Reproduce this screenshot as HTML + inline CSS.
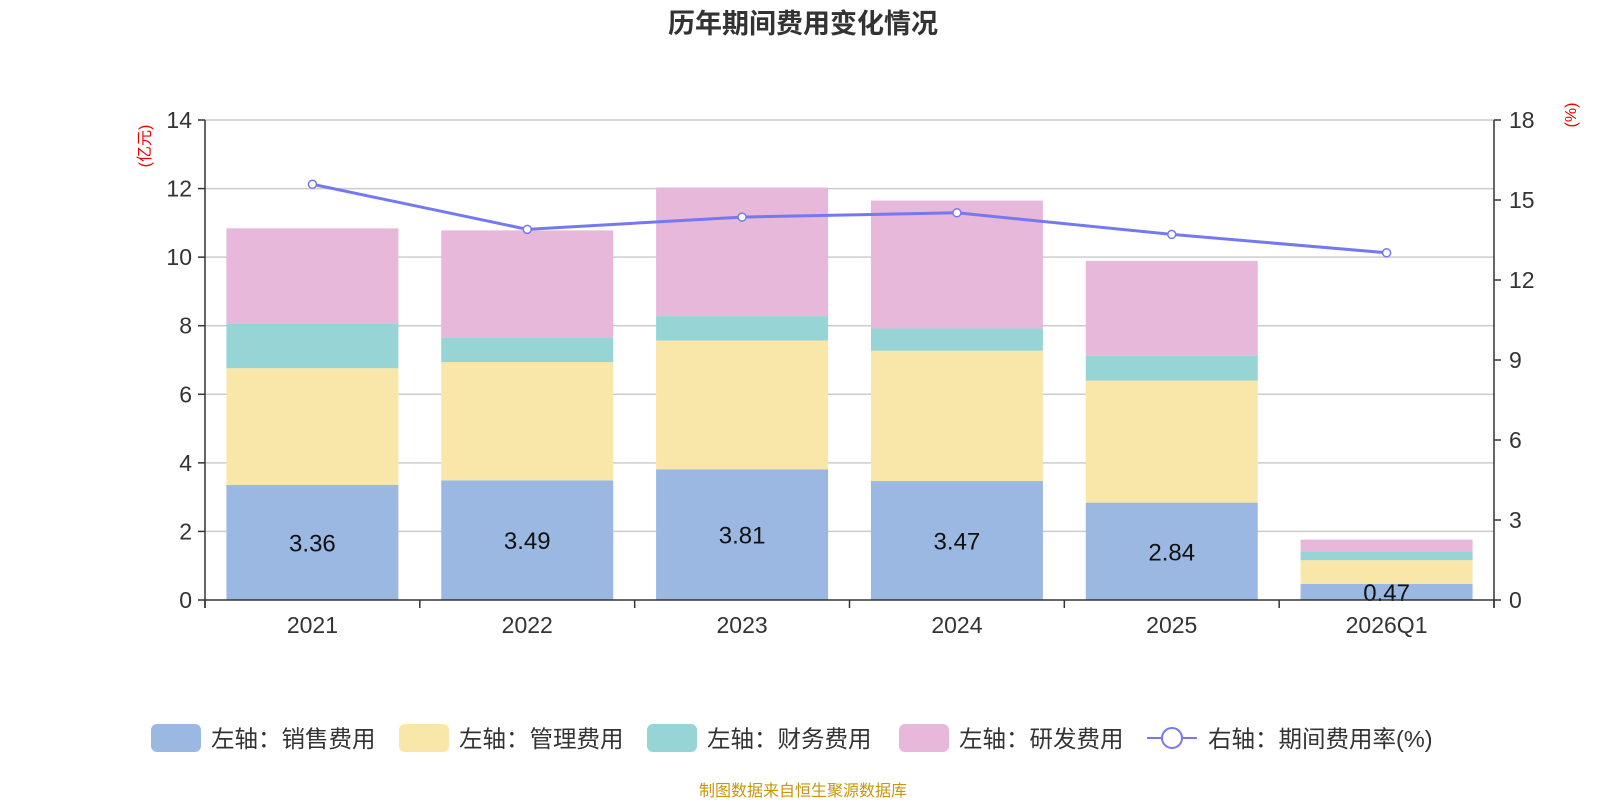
<!DOCTYPE html>
<html><head><meta charset="utf-8">
<style>
body{margin:0;background:#fff;font-family:"Liberation Sans","Noto Sans CJK SC",sans-serif;}
svg text{font-family:"Liberation Sans","Noto Sans CJK SC",sans-serif;}
</style></head>
<body>
<svg id="chart" width="1600" height="800" xmlns="http://www.w3.org/2000/svg">
<text x="803" y="33" text-anchor="middle" font-size="27" font-weight="bold" fill="#333">历年期间费用变化情况</text>
<text transform="translate(150,146) rotate(-90)" text-anchor="middle" font-size="16" fill="#e00">(亿元)</text>
<text transform="translate(1576,115) rotate(-90)" text-anchor="middle" font-size="16" fill="#e00">(%)</text>
<g id="grid"></g><g id="bars"></g><g id="axes"></g><g id="line"></g><g id="legend"></g>
<text x="803" y="796" text-anchor="middle" font-size="16" fill="#c8960a">制图数据来自恒生聚源数据库</text>
</svg>
<script>
const categories=["2021","2022","2023","2024","2025","2026Q1"];
const sales=[3.36,3.49,3.81,3.47,2.84,0.47];
const mgmt=[3.40,3.45,3.76,3.80,3.56,0.69];
const fin=[1.31,0.72,0.71,0.65,0.72,0.24];
const rd=[2.77,3.12,3.75,3.73,2.77,0.36];
const rate=[15.59,13.90,14.36,14.52,13.71,13.02];
const leftTicks=[0,2,4,6,8,10,12,14];
const rightTicks=[0,3,6,9,12,15,18];
const seriesNames=["左轴：销售费用","左轴：管理费用","左轴：财务费用","左轴：研发费用"];
const colors=["#9bb8e2","#f8e7a8","#96d4d5","#e7b8d9"];
const NS="http://www.w3.org/2000/svg";
const L=205,R=1494,T=120,B=600;
const yL=v=>B-(v/14)*(B-T);
const yR=v=>B-(v/18)*(B-T);
const band=(R-L)/categories.length;
const xC=i=>L+band*(i+0.5);
function mk(tag,attrs,parent,text){const e=document.createElementNS(NS,tag);for(const k in attrs)e.setAttribute(k,attrs[k]);if(text!==undefined)e.textContent=text;parent.appendChild(e);return e;}
const grid=document.getElementById('grid'),bars=document.getElementById('bars'),axes=document.getElementById('axes'),lineG=document.getElementById('line'),leg=document.getElementById('legend');
leftTicks.forEach(t=>{
 const y=yL(t);
 if(t>0){const g=mk('line',{x1:L,x2:R,y1:y,y2:y,stroke:'#ccc','stroke-width':1.5},grid);}
 mk('line',{x1:L-7,x2:L,y1:y,y2:y,stroke:'#333','stroke-width':1.5},axes);
 const tx=mk('text',{x:L-13,y:y+8,'text-anchor':'end','font-size':23,fill:'#333'},axes,t);
 
});
rightTicks.forEach(t=>{
 const y=yR(t);
 mk('line',{x1:R,x2:R+7,y1:y,y2:y,stroke:'#333','stroke-width':1.5},axes);
 const tx=mk('text',{x:R+15,y:y+8,'font-size':23,fill:'#333'},axes,t);
 
});
mk('line',{x1:L,x2:L,y1:T,y2:B+8,stroke:'#333','stroke-width':1.5},axes);
mk('line',{x1:R,x2:R,y1:T,y2:B+8,stroke:'#333','stroke-width':1.5},axes);
mk('line',{x1:L,x2:R,y1:B,y2:B,stroke:'#333','stroke-width':1.5},axes);
for(let i=0;i<=categories.length;i++){mk('line',{x1:L+band*i,x2:L+band*i,y1:B,y2:B+8,stroke:'#333','stroke-width':1.5},axes);}
categories.forEach((c,i)=>{
 const tx=mk('text',{x:xC(i),y:B+33,'text-anchor':'middle','font-size':23,fill:'#333'},axes,c);
 
});
const series=[sales,mgmt,fin,rd];
const bw=172;
categories.forEach((c,i)=>{
 let acc=0;
 series.forEach((s,k)=>{
  const y0=yL(acc),y1=yL(acc+s[i]);
  const r=mk('rect',{x:xC(i)-bw/2,y:y1,width:bw,height:y0-y1,fill:colors[k]},bars);
  
  
  acc+=s[i];
 });
 const lb=mk('text',{x:xC(i),y:(yL(0)+yL(sales[i]))/2+9,'text-anchor':'middle','font-size':24,fill:'#111'},bars,sales[i].toFixed(2));
 
});
const pts=rate.map((v,i)=>xC(i)+','+yR(v)).join(' ');
const pl=mk('polyline',{points:pts,fill:'none',stroke:'#7479ef','stroke-width':3},lineG);

rate.forEach((v,i)=>{
 const p=mk('circle',{cx:xC(i),cy:yR(v),r:4,fill:'#fff',stroke:'#7479ef','stroke-width':1.5},lineG);
 
});
const lx=[151,399,647,899];
seriesNames.forEach((n,k)=>{
 const r=mk('rect',{x:lx[k],y:724,width:50,height:28,rx:6,fill:colors[k]},leg);
 
 const t=mk('text',{x:lx[k]+60,y:747,'font-size':23.5,fill:'#333'},leg,n);
 
});
mk('line',{x1:1147,x2:1197,y1:738,y2:738,stroke:'#7479ef','stroke-width':2},leg);
mk('circle',{cx:1172,cy:738,r:10,fill:'#fff',stroke:'#7479ef','stroke-width':2},leg);
const lt=mk('text',{x:1208,y:747,'font-size':23.5,fill:'#333'},leg,'右轴：期间费用率(%)');

</script>
</body></html>
